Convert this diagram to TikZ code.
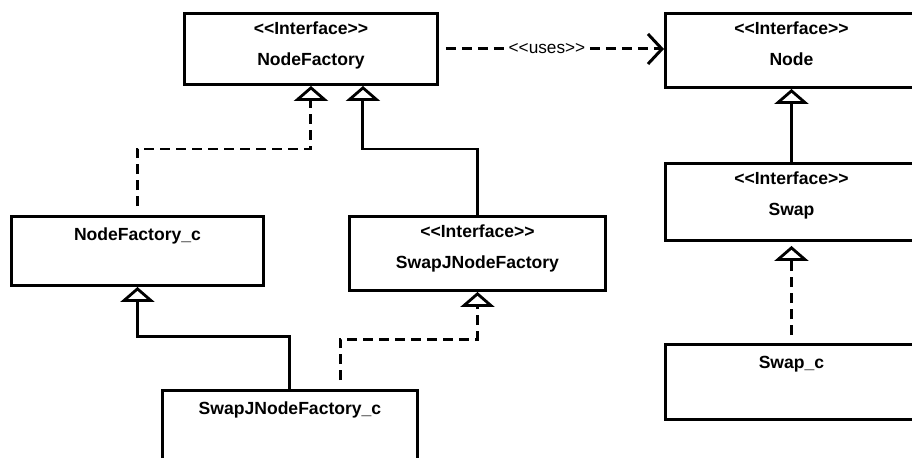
\documentclass[tikz,border=0pt]{standalone}
\usepackage{fontspec}
\newfontfamily\umlfont{Liberation Sans}
\usetikzlibrary{arrows.meta}

\begin{document}
\begin{tikzpicture}[x=0.02cm, y=-0.02cm,
    umlbox/.style={draw, line width=1.7pt, fill=white, anchor=north west, align=center, inner xsep=0pt, inner ysep=0pt, font=\umlfont\bfseries\fontsize{10}{17.6}\selectfont},
    interfacebox/.style={umlbox, text height=0.42cm},
    classbox/.style={umlbox, text height=0.48cm},
    inherit/.style={line width=1.7pt, -{Triangle[open, length=0.3cm, width=0.68cm, line width=1.6pt]}},
    realize/.style={inherit, dash pattern=on 0.2cm off 0.12cm},
    uses/.style={line width=1.7pt, dash pattern=on 0.2cm off 0.12cm, -{Straight Barb[length=0.28cm, width=0.6cm]}}]
    \useasboundingbox (0,0) rectangle (912,457);
    \clip (0,0) rectangle (912,457);

    % Interfaces
    \node[interfacebox, text width=5.06cm, text depth=1.0cm] (nodefactory) at (183,12) {<{}<Interface>{}>\\NodeFactory};
    \node[interfacebox, text width=5.04cm, text depth=1.06cm] (node) at (664,12) {<{}<Interface>{}>\\Node};
    \node[interfacebox, text width=5.12cm, text depth=1.06cm] (swapjnodefactory) at (348,215) {<{}<Interface>{}>\\SwapJNodeFactory};
    \node[interfacebox, text width=5.04cm, text depth=1.12cm] (swap) at (664,162) {<{}<Interface>{}>\\Swap};

    % Classes
    \node[classbox, text width=5.04cm, text depth=0.90cm] (nodefactoryc) at (10,215) {NodeFactory\_c};
    \node[classbox, text width=5.10cm, text depth=1.12cm] (swapjnodefactoryc) at (161,389) {SwapJNodeFactory\_c};
    \node[classbox, text width=5.04cm, text depth=1.02cm] (swapc) at (664,343) {Swap\_c};

    % Dependency
    \draw[uses, shorten <=0.14cm] (nodefactory.east) -- (nodefactory.east -| node.west) node[pos=0.48, fill=white, inner sep=2pt, font=\umlfont\fontsize{9.8}{11}\selectfont] (useslabel) {<{}<uses>{}>};

    % Generalization / realization, left
    \draw[realize, shorten <=0.18cm] (nodefactoryc.north) -- ++(0,-66) -| (nodefactory.south);
    \draw[inherit] (swapjnodefactory.north) -- ++(0,-66) -| ([xshift=1.04cm]nodefactory.south);
    \draw[inherit] (swapjnodefactoryc.north) -- ++(0,-53) -| (nodefactoryc.south);
    \draw[realize, shorten <=0.18cm] ([xshift=1.01cm]swapjnodefactoryc.north) -- ++(0,-50) -| (swapjnodefactory.south);

    % Right column
    \draw[inherit] (swap.north) -- (node.south);
    \draw[realize, shorten <=0.16cm, shorten >=0.08cm] (swapc.north) -- (swap.south);
\end{tikzpicture}
\end{document}
